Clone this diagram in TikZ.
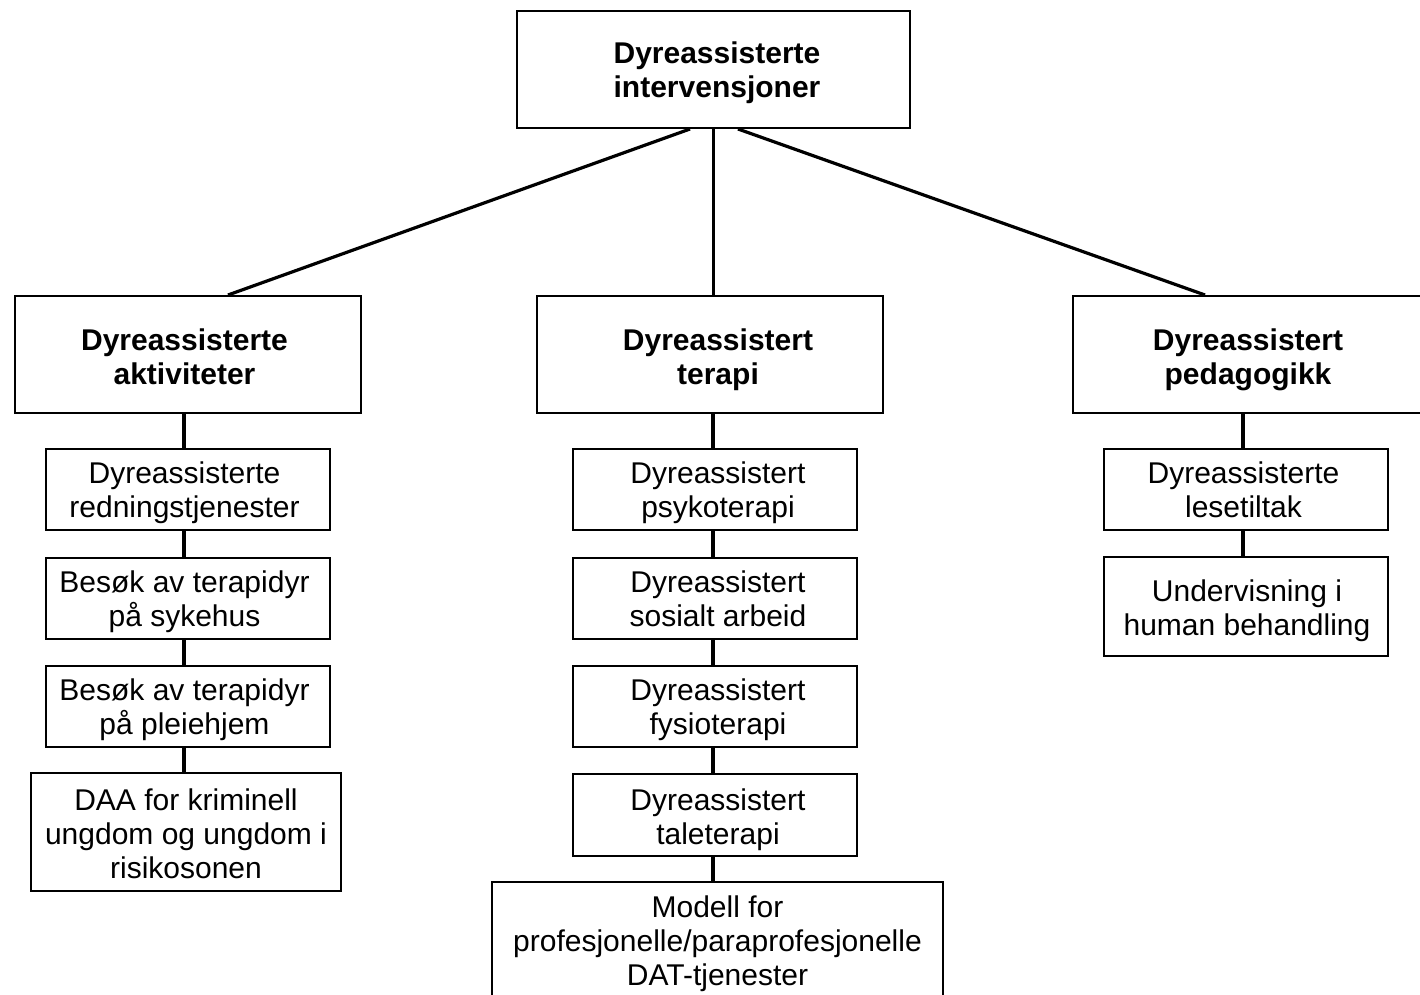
\documentclass[tikz,border=0pt]{standalone}
\usepackage{fontspec}
\setmainfont{Liberation Sans}
\usetikzlibrary{calc}
% text block: #1 horizontal shift, #2 extra top height (twice the downward shift), #3 lines
\newcommand\btxt[3]{\kern#1\begin{tabular}{@{}c@{}}\rule{0pt}{\dimexpr 11.9pt+#2\relax}#3\end{tabular}\kern-#1}
\begin{document}
\begin{tikzpicture}[x=0.5pt,y=-0.5pt,
  box/.style={draw=black,line width=1pt,fill=white,inner sep=0pt,
    font=\fontsize{15pt}{17pt}\selectfont},
  hbox/.style={box,font=\fontsize{15pt}{17pt}\selectfont\bfseries},
  conn/.style={line width=1.6pt}]
\useasboundingbox (0,0) rectangle (1420,995);
\clip (0,0) rectangle (1420,995);
% top
\node[hbox,minimum width=196.5pt,minimum height=58.5pt] (top) at (713.5,69.5) {\btxt{1.75pt}{3.9pt}{Dyreassisterte\\intervensjoner}};
% level 2
\node[hbox,minimum width=173pt,minimum height=58.5pt] (act) at (188,354.5) {\btxt{-1.75pt}{5.9pt}{Dyreassisterte\\aktiviteter}};
\node[hbox,minimum width=173pt,minimum height=58.5pt] (ter) at (710,354.5) {\btxt{4pt}{5.9pt}{Dyreassistert\\terapi}};
\node[hbox,minimum width=175pt,minimum height=58.5pt] (ped) at (1248,354.5) {\btxt{0pt}{5.9pt}{Dyreassistert\\pedagogikk}};
% left column
\node[box,minimum width=142pt,minimum height=40.5pt] (a1) at (188,489.5) {\btxt{-1.75pt}{3.9pt}{Dyreassisterte\\redningstjenester}};
\node[box,minimum width=142pt,minimum height=40.5pt] (a2) at (188,598.5) {\btxt{-1.75pt}{3.9pt}{Besøk av terapidyr\\på sykehus}};
\node[box,minimum width=142pt,minimum height=40.5pt] (a3) at (188,706.5) {\btxt{-1.75pt}{3.9pt}{Besøk av terapidyr\\på pleiehjem}};
\node[box,minimum width=155pt,minimum height=59pt] (a4) at (186,832) {\btxt{0pt}{5.4pt}{DAA for kriminell\\ungdom og ungdom i\\risikosonen}};
% middle column
\node[box,minimum width=142pt,minimum height=40.5pt] (t1) at (715,489.5) {\btxt{1.5pt}{3.9pt}{Dyreassistert\\psykoterapi}};
\node[box,minimum width=142pt,minimum height=40.5pt] (t2) at (715,598.5) {\btxt{1.5pt}{3.9pt}{Dyreassistert\\sosialt arbeid}};
\node[box,minimum width=142pt,minimum height=40.5pt] (t3) at (715,706.5) {\btxt{1.5pt}{3.9pt}{Dyreassistert\\fysioterapi}};
\node[box,minimum width=142pt,minimum height=41pt] (t4) at (715,815) {\btxt{1.5pt}{5.4pt}{Dyreassistert\\taleterapi}};
\node[box,minimum width=225.5pt,minimum height=59pt] (t5) at (717.5,941) {\btxt{0pt}{3.4pt}{Modell for\\profesjonelle/paraprofesjonelle\\DAT-tjenester}};
% right column
\node[box,minimum width=142pt,minimum height=40.5pt] (p1) at (1246,489.5) {\btxt{-1.25pt}{3.9pt}{Dyreassisterte\\lesetiltak}};
\node[box,minimum width=142pt,minimum height=49.5pt] (p2) at (1246,606.5) {\btxt{0.5pt}{4.9pt}{Undervisning i\\human behandling}};
% connectors
\draw[conn] ($(top.south)+(-23.5,0)$) -- ($(act.north)+(40,0)$);
\draw[conn] (top.south) -- (top.south |- ter.north);
\draw[conn] ($(top.south)+(24.5,0)$) -- ($(ped.north)+(-43,0)$);
\draw[conn] ($(act.south)+(-4,0)$) -- ($(a1.north)+(-4,0)$);
\draw[conn] ($(a1.south)+(-4,0)$) -- ($(a2.north)+(-4,0)$);
\draw[conn] ($(a2.south)+(-4,0)$) -- ($(a3.north)+(-4,0)$);
\draw[conn] ($(a3.south)+(-4,0)$) -- ($(a4.north)+(-2,0)$);
\draw[conn] ($(ter.south)+(3,0)$) -- ($(t1.north)+(-2,0)$);
\draw[conn] ($(t1.south)+(-2,0)$) -- ($(t2.north)+(-2,0)$);
\draw[conn] ($(t2.south)+(-2,0)$) -- ($(t3.north)+(-2,0)$);
\draw[conn] ($(t3.south)+(-2,0)$) -- ($(t4.north)+(-2,0)$);
\draw[conn] ($(t4.south)+(-2,0)$) -- ($(t5.north)+(-4.5,0)$);
\draw[conn] ($(ped.south)+(-5,0)$) -- ($(p1.north)+(-3,0)$);
\draw[conn] ($(p1.south)+(-3,0)$) -- ($(p2.north)+(-3,0)$);
\end{tikzpicture}
\end{document}
